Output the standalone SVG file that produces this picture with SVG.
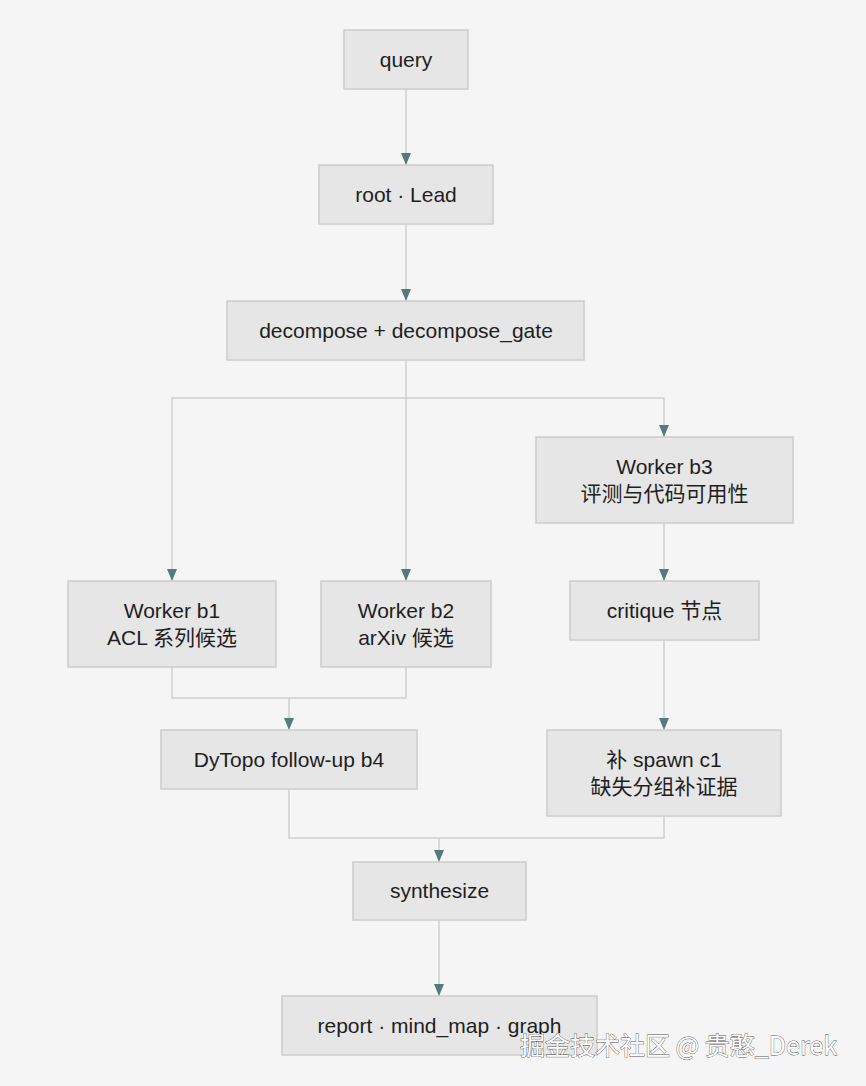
<svg xmlns="http://www.w3.org/2000/svg" width="866" height="1086" viewBox="0 0 866 1086">
<style>
.n rect{fill:#e6e6e6;stroke:#cccccc;stroke-width:1.5}
.n text{font-family:"Liberation Sans","Noto Sans CJK SC",sans-serif;font-size:21px;fill:#1e1e1e;text-anchor:middle}
.e path{fill:none;stroke:#cfcfcf;stroke-width:1.5}
.wm{font-family:"Noto Sans CJK SC","Liberation Sans",sans-serif;font-size:25px;fill:#fff;stroke:#555;stroke-width:0.8;paint-order:stroke}
</style>
<defs>
<marker id="a" viewBox="0 0 12 10" refX="12" refY="5" markerWidth="12" markerHeight="10" markerUnits="userSpaceOnUse" orient="auto">
<path d="M0,0 L12,5 L0,10 Z" fill="#567a7c"/>
</marker>
</defs>
<rect width="866" height="1086" fill="#f5f5f5"/>
<g class="e" id="connectors">
<path d="M406,89 V165" marker-end="url(#a)"/>
<path d="M406,224 V301" marker-end="url(#a)"/>
<path d="M406,360 V581" marker-end="url(#a)"/>
<path d="M406,398 H172 V581" marker-end="url(#a)"/>
<path d="M406,398 H664 V437" marker-end="url(#a)"/>
<path d="M664,523 V581" marker-end="url(#a)"/>
<path d="M664,640 V730" marker-end="url(#a)"/>
<path d="M172,667 V698 H406 V667"/>
<path d="M289,698 V730" marker-end="url(#a)"/>
<path d="M289,789 V838 H664 V816"/>
<path d="M439,838 V862" marker-end="url(#a)"/>
<path d="M439,920 V996" marker-end="url(#a)"/>
</g>
<g class="n" id="query"><rect x="344" y="30" width="124" height="59"/><text x="406" y="67">query</text></g>
<g class="n" id="root"><rect x="319" y="165" width="174" height="59"/><text x="406" y="202">root · Lead</text></g>
<g class="n" id="decompose"><rect x="227" y="301" width="357" height="59"/><text x="406" y="338">decompose + decompose_gate</text></g>
<g class="n" id="b3"><rect x="536" y="437" width="257" height="86"/><text x="664.5" y="474">Worker b3</text><text x="664.5" y="501">评测与代码可用性</text></g>
<g class="n" id="b1"><rect x="68" y="581" width="208" height="86"/><text x="172" y="618">Worker b1</text><text x="172" y="645">ACL 系列候选</text></g>
<g class="n" id="b2"><rect x="321" y="581" width="170" height="86"/><text x="406" y="618">Worker b2</text><text x="406" y="645">arXiv 候选</text></g>
<g class="n" id="critique"><rect x="570" y="581" width="189" height="59"/><text x="664.5" y="618">critique 节点</text></g>
<g class="n" id="b4"><rect x="161" y="730" width="256" height="59"/><text x="289" y="767">DyTopo follow-up b4</text></g>
<g class="n" id="c1"><rect x="547" y="730" width="234" height="86"/><text x="664" y="767">补 spawn c1</text><text x="664" y="794">缺失分组补证据</text></g>
<g class="n" id="synthesize"><rect x="353" y="862" width="173" height="58"/><text x="439.5" y="898">synthesize</text></g>
<g class="n" id="report"><rect x="282" y="996" width="315" height="59"/><text x="439.5" y="1033">report · mind_map · graph</text></g>
<text class="wm" x="520" y="1055">掘金技术社区 @ 贵憨_Derek</text>
</svg>
